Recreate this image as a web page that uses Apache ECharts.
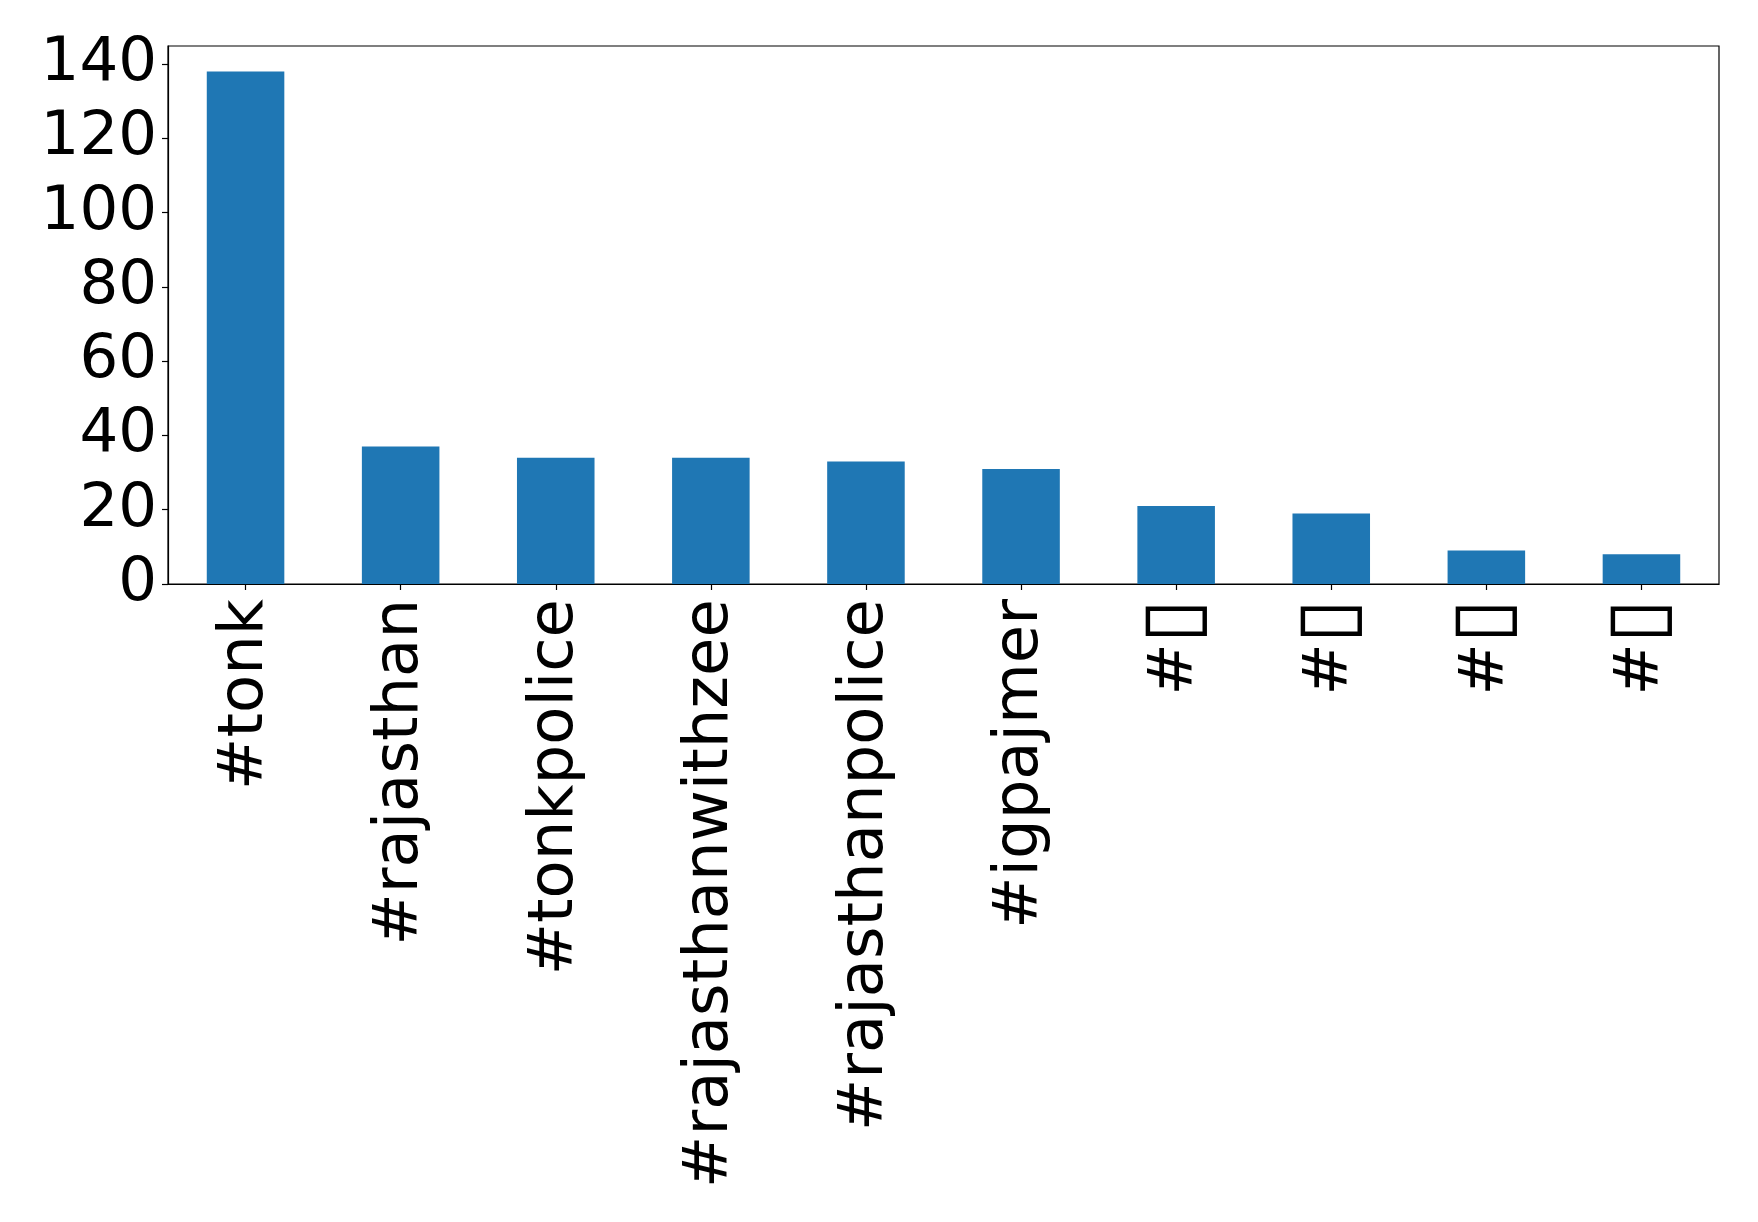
<!DOCTYPE html>
<html>
<head>
<meta charset="utf-8">
<script src="https://cdn.jsdelivr.net/npm/echarts@6/dist/echarts.min.js"></script>
<style>
  html, body { margin: 0; padding: 0; background: #fff; }
  #chart { width: 1758px; height: 1222px; }
</style>
</head>
<body>
<div id="chart"></div>
<script>
const categories = ['#tonk', '#rajasthan', '#tonkpolice', '#rajasthanwithzee', '#rajasthanpolice', '#igpajmer', '#\u25AF', '#\u25AF', '#\u25AF', '#\u25AF'];
const counts = [138, 37, 34, 34, 33, 31, 21, 19, 9, 8];
const yTicks = [0, 20, 40, 60, 80, 100, 120, 140];

const chart = echarts.init(document.getElementById('chart'), null, { renderer: 'canvas' });
const font = 'DejaVu Sans';
chart.setOption({
  animation: false,
  backgroundColor: '#ffffff',
  grid: {
    left: 168, right: 39, top: 46, bottom: 638,
    show: true, borderColor: '#000', borderWidth: 1.2, backgroundColor: 'transparent'
  },
  xAxis: {
    type: 'category',
    data: categories,
    axisLine: { show: true, lineStyle: { color: '#000', width: 1.2 } },
    axisTick: { show: true, alignWithLabel: true, length: 6, lineStyle: { color: '#000', width: 1.2 } },
    axisLabel: {
      rotate: 90, interval: 0, margin: 15,
      fontFamily: font, fontSize: 62.5, color: '#000',
      formatter: function (v) {
        return v.replace(/\u25AF/g, '{t|\u25AF}');
      },
      rich: {
        t: { fontFamily: font, fontSize: 80, fontWeight: 'bold', color: '#000' }
      }
    },
    splitLine: { show: false }
  },
  yAxis: {
    type: 'value',
    min: 0, max: 144.9, interval: 20,
    axisLine: { show: true, lineStyle: { color: '#000', width: 1.2 } },
    axisTick: { show: true, length: 6, customValues: yTicks, lineStyle: { color: '#000', width: 1.2 } },
    axisLabel: {
      customValues: yTicks, margin: 11,
      fontFamily: font, fontSize: 61, color: '#000'
    },
    splitLine: { show: false }
  },
  series: [{
    type: 'bar',
    data: counts,
    barWidth: '50%',
    itemStyle: { color: '#1f77b4' }
  }]
});
</script>
</body>
</html>
